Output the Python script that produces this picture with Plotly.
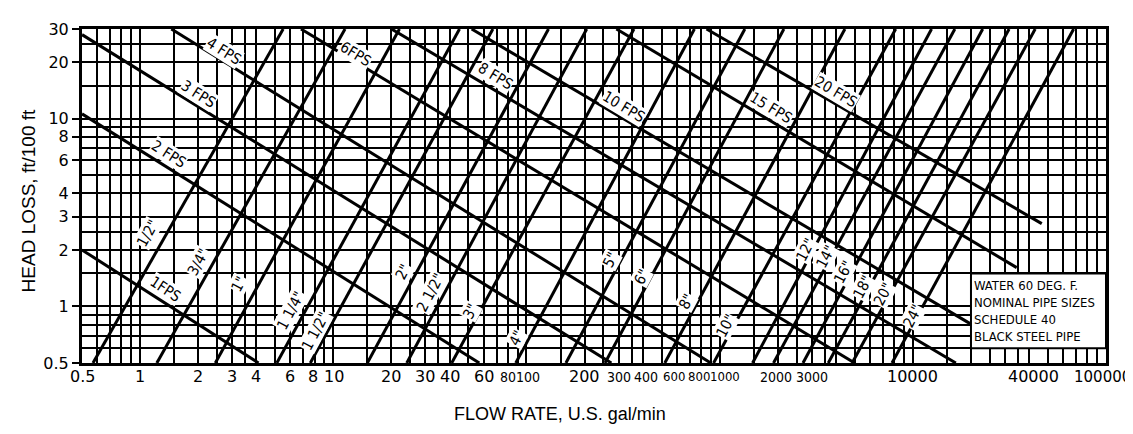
import math
import plotly.graph_objects as go

# ---------------- data ----------------
pipe_sizes = ['1/2"', '3/4"', '1"', '1 1/4"', '1 1/2"', '2"', '2 1/2"', '3"', '4"', '5"',
              '6"', '8"', '10"', '12"', '14"', '16"', '18"', '20"', '24"']
# flow (gal/min) where each pipe line meets head loss 0.5 and 30 ft/100 ft
pipe_flow_at_low = [0.57, 1.22, 2.45, 5.1, 7.6, 15, 24, 41, 88, 160, 255, 520, 930,
                    1480, 1900, 2700, 3650, 4850, 7800]
pipe_flow_at_high = [5.5, 11.5, 22, 45, 67, 130, 205, 360, 740, 1350, 2150, 4450, 8150,
                     12500, 16500, 23000, 31500, 43000, 68000]
pipe_head_low = 0.5
pipe_head_high = 30
pipe_label_flow = [1.10, 2.0, 3.26, 5.98, 8.1, 23, 32, 51, 89, 272, 394, 671, 1073,
                   2780, 3530, 4385, 5500, 7065, 10000]
pipe_label_head = [2.45, 1.73, 1.31, 0.95, 0.74, 1.52, 1.19, 0.94, 0.68, 1.77, 1.44, 1.06, 0.79,
                   2.0, 1.84, 1.52, 1.27, 1.16, 0.89]

velocities = ['1FPS', '2 FPS', '3 FPS', '4 FPS', '6FPS', '8 FPS', '10 FPS', '15 FPS', '20 FPS']
vel_flow_start = [0.5, 0.5, 0.5, 1.45, 6.8, 20, 52, 292, 855]
vel_head_start = [2.0, 10.6, 28, 30, 30, 30, 30, 30, 30]
vel_flow_end = [4.1, 57, 275, 900, 5000, 16700, 20200, 34500, 46500]
vel_head_end = [0.5, 0.5, 0.5, 0.5, 0.5, 0.5, 0.8, 1.61, 2.76]
vel_label_flow = [1.35, 1.40, 2.0, 2.7, 13, 69, 320, 1850, 4000]
vel_label_head = [1.24, 6.46, 13.6, 22.8, 22, 16.9, 11.6, 11.4, 13.9]

x_tick_values = [0.5, 1, 2, 3, 4, 6, 8, 10, 20, 30, 40, 60, 80, 100, 200, 300, 400,
                 600, 800, 1000, 2000, 3000, 10000, 40000, 100000]
x_tick_labels = ['0.5', '1', '2', '3', '4', '6', '8', '10', '20', '30', '40', '60', '80', '100',
                 '200', '300', '400', '600', '800', '1000', '2000', '3000', '10000', '40000', '100000']
y_tick_values = [0.5, 1, 2, 3, 4, 6, 8, 10, 20, 30]
y_tick_labels = ['0.5', '1', '2', '3', '4', '6', '8', '10', '20', '30']
y_grid_extra = [0.6, 0.7, 0.8, 0.9, 1.5, 2.5, 5, 7, 9, 15, 25]
x_grid_steps = [1, 1.5, 2, 2.5, 3, 3.5, 4, 5, 6, 7, 8, 9]

note_lines = ['WATER 60 DEG. F.', 'NOMINAL PIPE SIZES', 'SCHEDULE 40', 'BLACK STEEL PIPE']
note_box_x = [20000, 100000]
note_box_y = [0.6, 1.5]

# ---------------- layout constants ----------------
W, H = 1133, 434
ML, MR, MT, MB = 74, 35, 14, 79
PW, PH = W - ML - MR, H - MT - MB
XR = [math.log10(0.5), 5.0]
YR = [math.log10(0.5), math.log10(30)]
PX_DEC_X = PW / (XR[1] - XR[0])
PX_DEC_Y = PH / (YR[1] - YR[0])

NARROW = "Liberation Sans Narrow, DejaVu Sans Condensed, Arial Narrow, sans-serif"
LETTER = "DejaVu Sans, Verdana, sans-serif"
SANS = "Liberation Sans, Arial, Helvetica, sans-serif"

L = math.log10


def xfrac(v):
    return (L(v) - XR[0]) / (XR[1] - XR[0])


def yfrac(v):
    return (L(v) - YR[0]) / (YR[1] - YR[0])


x_grid = sorted({round(m * 10 ** k, 6) for k in range(-1, 6) for m in x_grid_steps
                 if 0.5 <= m * 10 ** k <= 100000})

fig = go.Figure()

for i, name in enumerate(pipe_sizes):
    fig.add_trace(go.Scatter(x=[pipe_flow_at_low[i], pipe_flow_at_high[i]],
                             y=[pipe_head_low, pipe_head_high], mode='lines',
                             line=dict(color='black', width=3), hoverinfo='skip',
                             showlegend=False, name=name))
for i, name in enumerate(velocities):
    fig.add_trace(go.Scatter(x=[vel_flow_start[i], vel_flow_end[i]],
                             y=[vel_head_start[i], vel_head_end[i]], mode='lines',
                             line=dict(color='black', width=3), hoverinfo='skip',
                             showlegend=False, name=name))

ann = []
for i, name in enumerate(pipe_sizes):
    s = (L(pipe_head_high) - L(pipe_head_low)) * PX_DEC_Y / ((L(pipe_flow_at_high[i]) - L(pipe_flow_at_low[i])) * PX_DEC_X)
    ang = -math.degrees(math.atan(s))
    ann.append(dict(x=L(pipe_label_flow[i]), y=L(pipe_label_head[i]), xref='x', yref='y',
                    text=name, showarrow=False, textangle=ang, bgcolor='white', borderpad=0,
                    font=dict(family=NARROW, size=15, color='black')))
for i, name in enumerate(velocities):
    s = (L(vel_head_start[i]) - L(vel_head_end[i])) * PX_DEC_Y / ((L(vel_flow_end[i]) - L(vel_flow_start[i])) * PX_DEC_X)
    ang = math.degrees(math.atan(s))
    ann.append(dict(x=L(vel_label_flow[i]), y=L(vel_label_head[i]), xref='x', yref='y',
                    text=name, showarrow=False, textangle=ang, bgcolor='white', borderpad=0,
                    font=dict(family=NARROW, size=15, color='black')))

# crowded tick labels are lettered narrower in the original
narrow_size = {'80': 14, '100': 14, '300': 14, '400': 14, '600': 13, '800': 13, '1000': 13,
               '2000': 14, '3000': 14}
nudge = {'600': -3, '800': -2, '1000': 5, '2000': -2, '3000': 0, '400': 3, '100': 2,
         '100000': -4, '40000': 4, '8': -2, '10': 1}
for v, t in zip(x_tick_values, x_tick_labels):
    if t in narrow_size:
        f = dict(family=NARROW, size=narrow_size[t], color='black')
    else:
        f = dict(family=LETTER, size=16 if t != '100000' else 15, color='black')
    ann.append(dict(x=L(v), y=-14 / PH, xref='x', yref='paper', text=t, showarrow=False,
                    xanchor='center', yanchor='middle', xshift=nudge.get(t, 0), font=f))

ann.append(dict(x=xfrac(note_box_x[0]) + 2 / PW, y=(yfrac(note_box_y[0]) + yfrac(note_box_y[1])) / 2,
                xref='paper', yref='paper', text='<br>'.join(note_lines), showarrow=False,
                xanchor='left', yanchor='middle', align='left', borderpad=0,
                font=dict(family=NARROW, size=13, color='black')))

ann.append(dict(x=(20 - ML) / PW, y=(MT + PH - 190) / PH, xref='paper', yref='paper',
                text='HEAD LOSS, ft/100 ft', showarrow=False, textangle=-90,
                xanchor='center', yanchor='middle', font=dict(family=SANS, size=19, color='black')))
ann.append(dict(x=(552 - ML) / PW, y=(MT + PH - 407) / PH, xref='paper', yref='paper',
                text='FLOW RATE, U.S. gal/min', showarrow=False,
                xanchor='center', yanchor='middle', font=dict(family=SANS, size=18, color='black')))
ann.append(dict(x=(560 - ML) / PW, y=(MT + PH - 427) / PH, xref='paper', yref='paper',
                text='<b>Figure 7.4  Friction Loss for Water in Commercial Steel Pipe (Schedule 40)</b>',
                showarrow=False, xanchor='center', yanchor='top',
                font=dict(family=SANS, size=17, color='#777777')))

fig.update_layout(
    width=W, height=H, autosize=False,
    margin=dict(l=ML, r=MR, t=MT, b=MB, pad=0),
    paper_bgcolor='white', plot_bgcolor='white',
    showlegend=False,
    annotations=ann,
    shapes=[dict(type='rect', xref='paper', yref='paper',
                 x0=xfrac(note_box_x[0]), x1=xfrac(note_box_x[1]),
                 y0=yfrac(note_box_y[0]), y1=yfrac(note_box_y[1]),
                 fillcolor='white', line=dict(color='black', width=2), layer='above')],
    xaxis=dict(type='log', range=XR, tickmode='array', tickvals=x_grid, showticklabels=False,
               ticks='', showgrid=True, gridcolor='black', gridwidth=2, zeroline=False,
               showline=True, mirror=True, linecolor='black', linewidth=3),
    yaxis=dict(type='log', range=YR, tickmode='array', tickvals=y_tick_values,
               ticktext=y_tick_labels, ticks='outside', ticklen=7, tickwidth=2, tickcolor='black',
               tickfont=dict(family=LETTER, size=16, color='black'),
               showgrid=True, gridcolor='black', gridwidth=2, zeroline=False,
               showline=True, mirror=True, linecolor='black', linewidth=3,
               minor=dict(tickmode='array', tickvals=y_grid_extra, showgrid=True,
                          gridcolor='black', gridwidth=2, ticks='')),
)

fig.write_html("out.html")
